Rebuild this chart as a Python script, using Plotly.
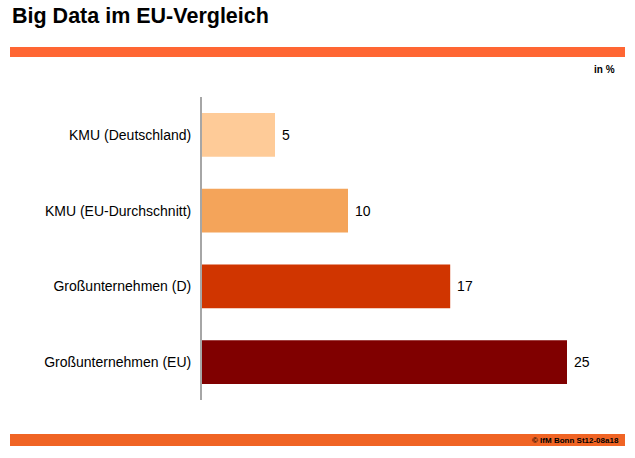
import plotly.graph_objects as go

categories = ["KMU (Deutschland)", "KMU (EU-Durchschnitt)", "Großunternehmen (D)", "Großunternehmen (EU)"]
values = [5, 10, 17, 25]
colors = ["#FECB98", "#F4A45A", "#D03500", "#800000"]

FONT = "Liberation Sans, Arial, sans-serif"

fig = go.Figure(go.Bar(
    y=categories, x=values, orientation="h",
    marker=dict(color=colors, line=dict(width=0)),
    width=0.58,
    text=[f" {v}" for v in values], textposition="outside",
    textfont=dict(family=FONT, size=14, color="#000000"),
    cliponaxis=False,
))

W, H = 635, 458
L, R, T, B = 202, 33, 97, 58
pw, ph = W - L - R, H - T - B

def px_x(x):
    return (x - L) / pw

def px_y(y):
    return (H - B - y) / ph

fig.update_layout(
    width=W, height=H,
    margin=dict(l=L, r=R, t=T, b=B),
    paper_bgcolor="white", plot_bgcolor="white",
    showlegend=False,
    font=dict(family=FONT, size=14, color="#000000"),
    xaxis=dict(range=[0, pw / 14.6], visible=False, fixedrange=True),
    yaxis=dict(autorange=False, range=[3.5, -0.5], showline=True, linecolor="#A6A6A6", linewidth=2,
               showgrid=False, ticks="", ticklabelstandoff=6, tickfont=dict(size=14), zeroline=False,
               fixedrange=True),
    shapes=[
        dict(type="rect", xref="paper", yref="paper", x0=px_x(10), x1=px_x(625), y0=px_y(57), y1=px_y(47),
             fillcolor="#FF6633", line=dict(width=0), layer="below"),
        dict(type="rect", xref="paper", yref="paper", x0=px_x(10), x1=px_x(625), y0=px_y(446), y1=px_y(434),
             fillcolor="#F06424", line=dict(width=0), layer="below"),
    ],
    annotations=[
        dict(text="<b>Big Data im EU-Vergleich</b>", xref="paper", yref="paper", x=px_x(10), y=px_y(16),
             xanchor="left", yanchor="middle", showarrow=False, font=dict(size=21.5, color="#000000")),
        dict(text="<b>in %</b>", xref="paper", yref="paper", x=px_x(617), y=px_y(69),
             xanchor="right", yanchor="middle", showarrow=False, font=dict(size=10, color="#000000")),
        dict(text="<b>© IfM Bonn St12-08a18</b>", xref="paper", yref="paper", x=px_x(621), y=px_y(440),
             xanchor="right", yanchor="middle", showarrow=False, font=dict(size=8, color="#000000")),
    ],
)

fig.write_html("out.html", config={"displayModeBar": False},
               post_script="document.body.style.margin='0';document.body.style.overflow='hidden';")
